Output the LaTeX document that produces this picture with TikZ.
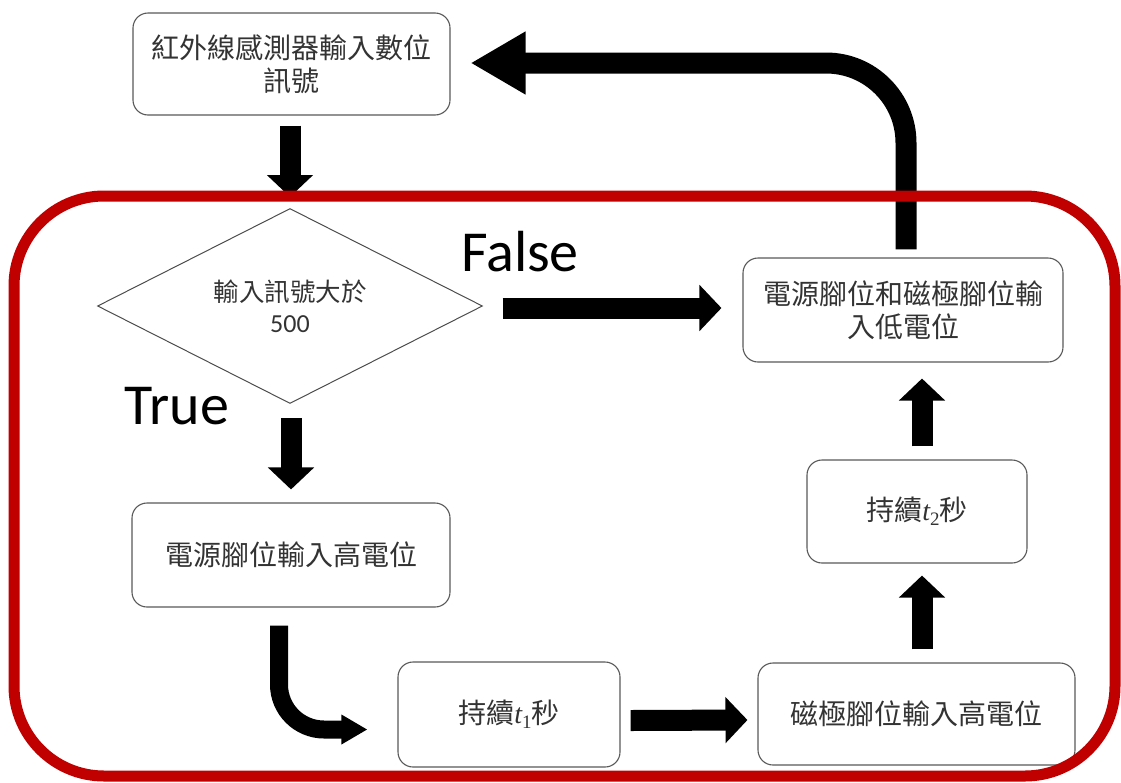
\documentclass[tikz,border=0pt]{standalone}
\usepackage{fontspec}
\setmainfont{Carlito}
\newfontfamily\cjk{Noto Sans CJK TC}
\newfontfamily\tfont{Liberation Serif}
\usetikzlibrary{arrows.meta,shapes.geometric,calc}
\definecolor{frame}{RGB}{192,0,0}
\newcommand{\tsub}[1]{{\tfont\itshape t}\raisebox{-5pt}{\tfont\fontsize{19}{19}\selectfont #1}}
\tikzset{
  box/.style={draw=black!65, line width=1.1pt, rounded corners=15pt, fill=white,
    align=center, font=\cjk\fontsize{28}{33}\selectfont, text=black!80, inner sep=0pt},
  blk/.style={draw=black, line width=21pt, -{Triangle[width=45pt,length=22pt]}},
  lbl/.style={font=\fontsize{58}{64}\selectfont, text=black, inner sep=0pt, anchor=base},
}
\begin{document}
\begin{tikzpicture}[x=1pt,y=-1pt]
\useasboundingbox (0,0) rectangle (1121,782);
% nodes
\node[box, minimum width=317pt, minimum height=102pt] (top) at (291.5,64) {紅外線感測器輸入數位\\訊號};
\node[draw=black!70, line width=1pt, diamond, shape aspect=2, minimum width=385pt, minimum height=195pt, inner sep=0pt,
      align=center, text=black!80, font=\cjk\fontsize{25.5}{31}\selectfont] (dia) at (290,306)
      {輸入訊號大於\\{\rmfamily\fontsize{26}{31}\selectfont 500}};
\node[box, minimum width=320pt, minimum height=104pt] (low) at (903,310) {電源腳位和磁極腳位輸\\入低電位};
\node[box, minimum width=318pt, minimum height=104pt] (hi) at (291,555) {電源腳位輸入高電位};
\node[box, minimum width=222pt, minimum height=105pt] (t1) at (509,714.5) {持續\tsub{1}秒};
\node[box, minimum width=317pt, minimum height=102pt] (mag) at (916.5,714) {磁極腳位輸入高電位};
\node[box, minimum width=220pt, minimum height=103pt] (t2) at (917,511.5) {持續\tsub{2}秒};
% labels
\node[lbl] (lfalse) at (520,271) {False};
\node[lbl] (ltrue) at (177,424) {True};
% block arrows
\draw[blk] ($(top.south)+(-1.5,10)$) -- ($(dia.north)+(0,-11)$);
\draw[blk] ($(dia.south)+(1,14)$) -- ($(hi.north)+(0,-13)$);
\draw[blk] ($(dia.east)+(19.5,2)$) -- ($(low.west)+(-21,-2)$);
\draw[draw=black, line width=18pt, rounded corners=45pt, -{Triangle[width=28pt,length=26pt]}]
  ($(hi.south)+(-12,18)$) |- ($(t1.west)+(-30,15)$);
\draw[blk] ($(t1.east)+(10,6)$) -- ($(mag.west)+(-10,6)$);
\draw[blk] ($(mag.north)+(5.5,-13)$) -- ($(t2.south)+(5,12)$);
\draw[blk] ($(t2.north)+(5,-13)$) -- ($(low.south)+(19,16)$);
\draw[draw=black, line width=21pt, rounded corners=80pt, -{Triangle[width=59pt,length=55pt]}]
  ($(low.north)+(3,-8)$) |- ($(top.east)+(20,-1)$);
% red frame
\draw[frame, line width=11pt, rounded corners=90pt] (14,196) rectangle (1115,776);
\end{tikzpicture}
\end{document}
